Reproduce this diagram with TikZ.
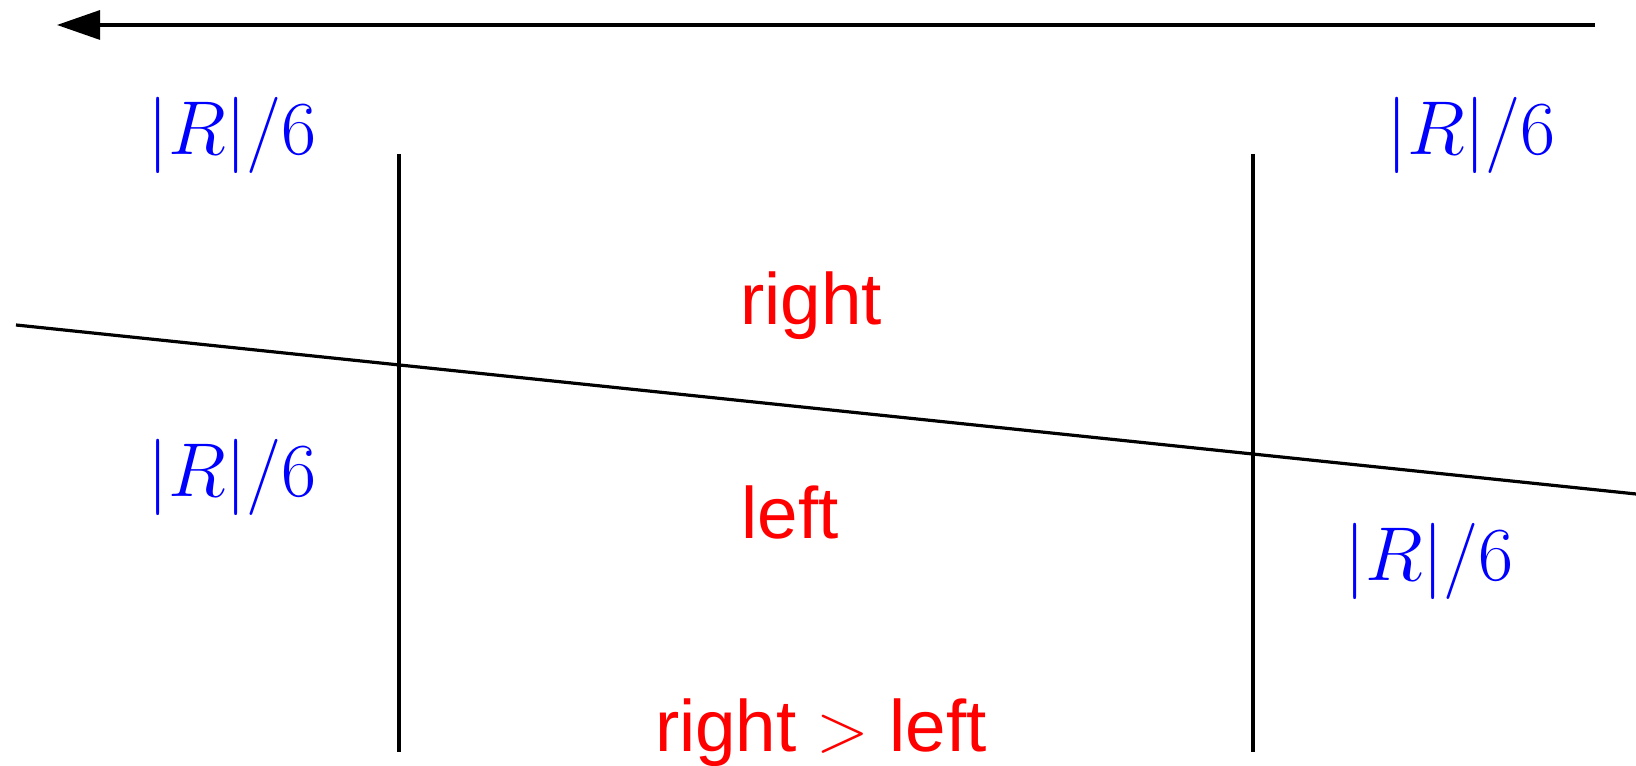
\documentclass[tikz,border=0pt]{standalone}
\usepackage{fontspec}
\newfontfamily\lsans{Liberation Sans}
\usetikzlibrary{arrows.meta}
\newcommand{\rsix}{\scalebox{0.92}{$|R|/6$}}
\tikzset{
  ln/.style={line width=0.8pt, black},
  blab/.style={text=blue, inner sep=0pt, anchor=base, font=\fontsize{19.8pt}{24pt}\selectfont},
  rlab/.style={text=red, inner sep=0pt, anchor=base, font=\fontsize{18.2pt}{22pt}\selectfont\lsans},
}
\begin{document}
\begin{tikzpicture}[x=0.25pt,y=-0.25pt]
\useasboundingbox (0,0) rectangle (1636,766);
% coordinates
\coordinate (aR) at (1595,25);
\coordinate (aL) at (57,25);
\coordinate (v1t) at (399,154);
\coordinate (v1b) at (399,752);
\coordinate (v2t) at (1253,154);
\coordinate (v2b) at (1253,752);
\coordinate (sL) at (16,325);
\coordinate (sR) at (1636,494);
% lines
\draw[ln,-{Triangle[length=10.75pt,width=7.25pt]}] (aR) -- (aL);
\draw[ln] (v1t) -- (v1b);
\draw[ln] (v2t) -- (v2b);
\draw[ln] (sL) -- (sR);
% labels
\node[blab] (tl) at (232,155) {\rsix};
\node[blab] (tr) at (1471,155) {\rsix};
\node[blab] (ml) at (232,497) {\rsix};
\node[blab] (mr) at (1429,581) {\rsix};
\node[rlab] (rt) at (811,325) {right};
\node[rlab] (lf) at (790,539) {left};
\node[rlab] (rl) at (821,752) {right $>$ left};
\end{tikzpicture}
\end{document}
